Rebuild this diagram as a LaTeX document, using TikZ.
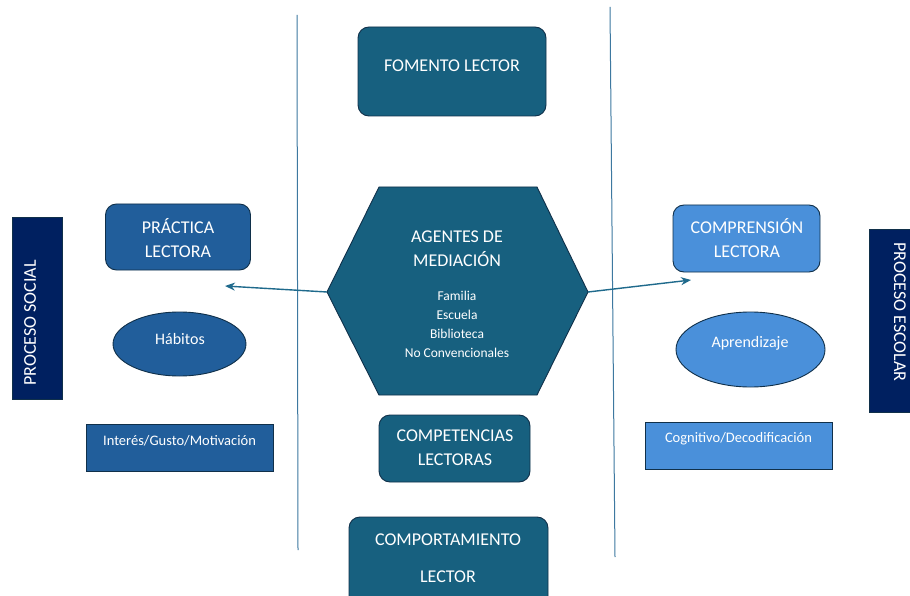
\documentclass[tikz,border=0pt]{standalone}
\usepackage{fontspec}
\setmainfont{Carlito}
\usetikzlibrary{arrows.meta,shapes.geometric}
\definecolor{teal}{HTML}{17607F}
\definecolor{midblue}{HTML}{215E9B}
\definecolor{lightblue}{HTML}{4A90DA}
\definecolor{navy}{HTML}{002060}
\definecolor{edge}{HTML}{10304A}
\definecolor{vline}{HTML}{3D78A0}
\definecolor{arrowc}{HTML}{1F6A8C}
\tikzset{
  rbox/.style={draw=edge, line width=0.9pt, rounded corners=11pt, text=white, align=center, inner sep=0pt},
  sbox/.style={draw=edge, line width=0.9pt, text=white, align=center, inner sep=0pt},
  ell/.style={draw=edge, line width=0.9pt, ellipse, text=white, inner sep=0pt},
  big/.style={font=\fontsize{18}{24}\selectfont},
  small/.style={font=\fontsize{14.5}{19}\selectfont},
  mid/.style={font=\fontsize{16}{20}\selectfont},
  sep/.style={draw=vline, line width=1pt},
  link/.style={draw=arrowc, line width=1.4pt, -{Stealth[length=10pt,width=8pt]}},
}
\begin{document}
\begin{tikzpicture}[x=1pt,y=-1pt]
\useasboundingbox (0,0) rectangle (910,596);
\fill[white] (0,0) rectangle (910,596);
% separators
\coordinate (l1) at (297,15); \coordinate (l2) at (298,550);
\coordinate (r1) at (610,7); \coordinate (r2) at (615,557);
\draw[sep] (l1) -- (l2);
\draw[sep] (r1) -- (r2);
% top
\node[rbox, fill=teal, minimum width=188pt, minimum height=89pt, big] (fom) at (452,71.5) {};
\node[text=white, big] (fomt) at (452,66) {FOMENTO LECTOR};
% hexagon
\coordinate (hTL) at (379,187); \coordinate (hTR) at (537,187);
\coordinate (hR) at (588,292); \coordinate (hBR) at (537,395);
\coordinate (hBL) at (379,395); \coordinate (hL) at (327,292);
\draw[fill=teal, draw=edge, line width=0.9pt] (hTL) -- (hTR) -- (hR) -- (hBR) -- (hBL) -- (hL) -- cycle;
\node[text=white, align=center, big] (agt) at (457,249) {AGENTES DE\\MEDIACIÓN};
\node[text=white, align=center, font=\fontsize{13.5}{19}\selectfont] (agl) at (457,324.5) {Familia\\Escuela\\Biblioteca\\No Convencionales};
% left column
\node[sbox, fill=navy, minimum width=50pt, minimum height=182pt] (psoc) at (37,308) {};
\node[text=white, big, rotate=90] (psoct) at (30,323) {PROCESO SOCIAL};
\node[rbox, fill=midblue, minimum width=145pt, minimum height=66pt] (prac) at (178,237) {};
\node[text=white, align=center, big] (pract) at (178,238) {PRÁCTICA\\LECTORA};
\node[ell, fill=midblue, minimum width=133pt, minimum height=64pt] (hab) at (179.5,344) {};
\node[text=white, mid] (habt) at (180,339) {Hábitos};
\node[sbox, fill=midblue, minimum width=187pt, minimum height=47pt] (int) at (179.5,448) {};
\node[text=white, small] (intt) at (179.5,441) {Interés/Gusto/Motivación};
% right column
\node[sbox, fill=navy, minimum width=45pt, minimum height=183pt] (pesc) at (891.5,320.5) {};
\node[text=white, big, rotate=-90] (pesct) at (900,312) {PROCESO ESCOLAR};
\node[rbox, fill=lightblue, minimum width=147pt, minimum height=67pt] (comp) at (746.5,238.5) {};
\node[text=white, align=center, big] (compt) at (747,238) {COMPRENSIÓN\\LECTORA};
\node[ell, fill=lightblue, minimum width=149pt, minimum height=75pt] (apr) at (750.5,349.5) {};
\node[text=white, mid] (aprt) at (750,343) {Aprendizaje};
\node[sbox, fill=lightblue, minimum width=187pt, minimum height=47pt] (cog) at (738.5,445.5) {};
\node[text=white, small] (cogt) at (738.5,439) {Cognitivo/Decodificación};
% bottom
\node[rbox, fill=teal, minimum width=151pt, minimum height=67pt] (cpt) at (454.5,448.5) {};
\node[text=white, align=center, big] (cptt) at (455,448) {COMPETENCIAS\\LECTORAS};
\node[rbox, fill=teal, minimum width=199pt, minimum height=100pt] (cmp) at (448.5,567) {};
\node[text=white, big] (cmpt1) at (448,540) {COMPORTAMIENTO};
\node[text=white, big] (cmpt2) at (448,577) {LECTOR};
% arrows
\coordinate (aL) at (225,286);
\coordinate (aR) at (691,280);
\draw[link] (hL) -- (aL);
\draw[link] (hR) -- (aR);
\end{tikzpicture}
\end{document}
